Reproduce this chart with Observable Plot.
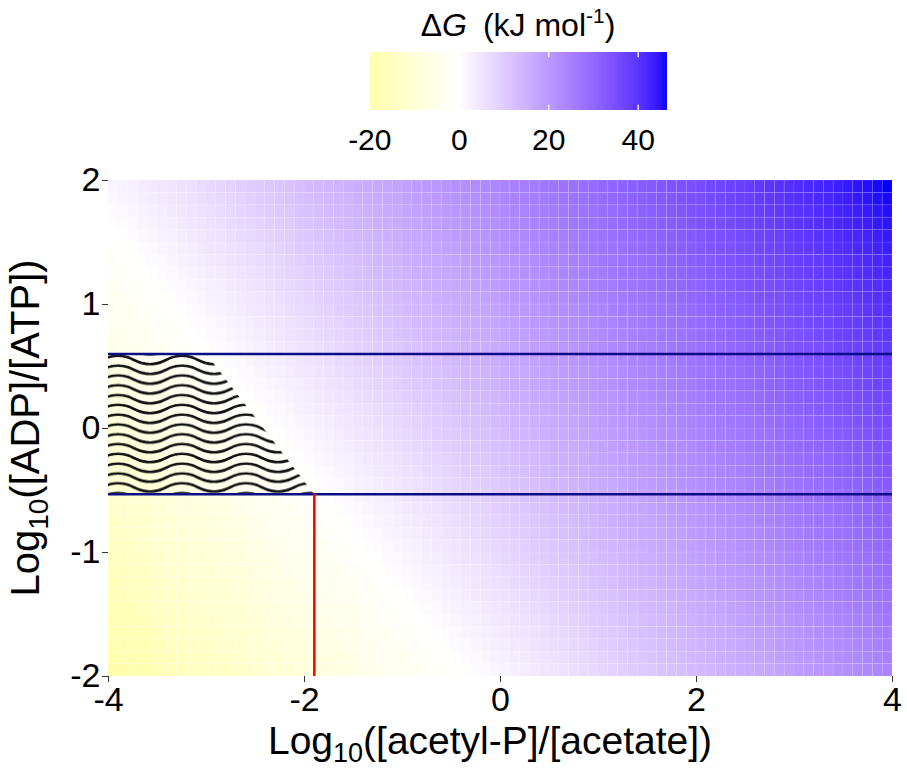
<!DOCTYPE html>
<html>
<head>
<meta charset="utf-8">
<script src="https://cdn.jsdelivr.net/npm/d3@7"></script>
<script src="https://cdn.jsdelivr.net/npm/@observablehq/plot@0.6"></script>
<style>
  html, body { margin: 0; padding: 0; background: #fff; overflow: hidden; }
  #chart svg { display: block; }
</style>
</head>
<body>
<div id="chart"></div>
<script>
// ---- data ----
const xDomain = [-4, 4];          // log10([acetyl-P]/[acetate])
const yDomain = [-2, 2];          // log10([ADP]/[ATP])
const tileStep = 0.1;             // grid resolution of the heat map
const xTicks = [-4, -2, 0, 2, 4];
const yTicks = [-2, -1, 0, 1, 2];
const legendTicks = [-20, 0, 20, 40];
// ΔG = ΔG0 + RT·ln10·(x + y)   (kJ/mol)
const dG0 = 13.2;
const RTln10 = 5.65;
// physiological band of log10([ADP]/[ATP]) and acetyl-P limit
const bandY = [-0.53, 0.60];
const acetylPLimit = -1.9;
// hatched (ΔG < 0) region edge inside the band
const hatchEdge = [
  {y: -0.53, x: -1.9},
  {y: 0.60, x: -3.0}
];

// ---- build the grid ----
const xEdges = d3.range(Math.round(xDomain[0] / tileStep), Math.round(xDomain[1] / tileStep)).map(i => i * tileStep);
const yEdges = d3.range(Math.round(yDomain[0] / tileStep), Math.round(yDomain[1] / tileStep)).map(i => i * tileStep);
const cells = [];
for (const x of xEdges) for (const y of yEdges) {
  const xc = x + tileStep / 2, yc = y + tileStep / 2;
  cells.push({x1: x, x2: x + tileStep, y1: y, y2: y + tileStep, dG: dG0 + RTln10 * (xc + yc)});
}
const [mn, mx] = d3.extent(cells, d => d.dG);
const M = Math.max(Math.abs(mn), Math.abs(mx));
const lowHigh = [d3.interpolateLab("#ffff00", "#ffffff"), d3.interpolateLab("#ffffff", "#0000ff")];
const colorOpts = {
  type: "linear",
  domain: [-M, M],
  interpolate: t => t < 0.5 ? lowHigh[0](t * 2) : lowHigh[1](t * 2 - 1)
};
const font = "'Liberation Sans', Arial, Helvetica, sans-serif";
const fmt = d => String(d);

// ---- legend (colour bar) ----
const pxPerUnit = (637.7 - 369.3) / 60;
const lMarginLeft = 369.3 + (mn + 20) * pxPerUnit;
const lMarginRight = 907 - (637.7 + (mx - 40) * pxPerUnit);
const nStops = 150;
const legendStep = (mx - mn) / nStops;
const legendStops = d3.range(nStops).map(i => mn + i * legendStep);

const legend = Plot.plot({
  width: 907, height: 160,
  marginTop: 52, marginBottom: 50, marginLeft: lMarginLeft, marginRight: lMarginRight,
  x: {domain: [mn, mx], axis: null},
  y: {domain: [0, 1], axis: null},
  color: colorOpts,
  style: {fontFamily: font, fontSize: "30px", color: "black", background: "white"},
  marks: [
    Plot.rect(legendStops, {x1: d => d, x2: d => Math.min(mx, d + legendStep * 1.6), fill: d => d + legendStep / 2, shapeRendering: "crispEdges"}),
    Plot.ruleX(legendTicks, {y1: 0, y2: 0.09, stroke: "white", strokeWidth: 1.3}),
    Plot.ruleX(legendTicks, {y1: 0.91, y2: 1, stroke: "white", strokeWidth: 1.3}),
    Plot.axisX(legendTicks, {tickSize: 0, tickPadding: 18, label: null, fill: "black", tickFormat: fmt})
  ]
});
const lsvg = d3.select(legend);
const lt = lsvg.append("text")
  .attr("x", 518).attr("y", 36)
  .attr("text-anchor", "middle")
  .attr("font-family", font).attr("font-size", 32).attr("fill", "black");
lt.append("tspan").text("Δ");
lt.append("tspan").attr("font-style", "italic").text("G");
lt.append("tspan").attr("xml:space", "preserve").text("\u2002(kJ mol");
lt.append("tspan").attr("font-size", 21).attr("dy", -13).text("-1");
lt.append("tspan").attr("dy", 13).text(")");

// ---- main heat map ----
const plot = Plot.plot({
  width: 907, height: 611,
  marginTop: 20, marginBottom: 95, marginLeft: 108, marginRight: 15,
  x: {domain: xDomain},
  y: {domain: yDomain},
  color: colorOpts,
  style: {fontFamily: font, fontSize: "34px", color: "black", background: "white"},
  marks: [
    Plot.rect(cells, {x1: "x1", x2: "x2", y1: "y1", y2: "y2", fill: "dG",
      stroke: "white", strokeOpacity: 0.13, strokeWidth: 0.7}),
    Plot.areaX(hatchEdge, {y: "y", x1: xDomain[0], x2: "x", fill: "url(#waves)"}),
    Plot.ruleY(bandY, {stroke: "#0c0c86", strokeWidth: 2.5}),
    Plot.ruleX([acetylPLimit], {y1: yDomain[0], y2: bandY[0], stroke: "#ff0000", strokeWidth: 2.5}),
    Plot.axisX({ticks: xTicks, tickSize: 6, tickPadding: 4, label: null, stroke: "#333", fill: "black", tickFormat: fmt}),
    Plot.axisY({ticks: yTicks, tickSize: 6, tickPadding: 2, label: null, stroke: "#333", fill: "black", tickFormat: fmt})
  ]
});

const svg = d3.select(plot);
const ys = plot.scale("y"), xs = plot.scale("x");
// wavy hatch pattern
const h = 9.8, A = 4.2, P = 64;
const defs = svg.insert("defs", ":first-child");
const pat = defs.append("pattern")
  .attr("id", "waves")
  .attr("patternUnits", "userSpaceOnUse")
  .attr("x", 134)
  .attr("y", ys.apply(bandY[1]) + 6.4 - h / 2)
  .attr("width", P).attr("height", h);
for (const off of [-h, 0, h]) {
  const c = h / 2 + off;
  let d = `M${-P},${c}`;
  for (let k = -1; k < 2; k++) {
    d += ` Q${k * P + P / 4},${c + 2 * A} ${k * P + P / 2},${c} Q${k * P + 3 * P / 4},${c - 2 * A} ${(k + 1) * P},${c}`;
  }
  pat.append("path").attr("d", d).attr("fill", "none").attr("stroke", "#111").attr("stroke-width", 2.6);
}

// axis titles with subscripts
const xt = svg.append("text")
  .attr("x", xs.apply(0) - 10).attr("y", 594)
  .attr("text-anchor", "middle")
  .attr("font-family", font).attr("font-size", 39).attr("fill", "black");
xt.append("tspan").text("Log");
xt.append("tspan").attr("font-size", 27).attr("dy", 8).text("10");
xt.append("tspan").attr("dy", -8).text("([acetyl-P]/[acetate])");

const yt = svg.append("text")
  .attr("transform", `translate(39,${ys.apply(0)}) rotate(-90)`)
  .attr("text-anchor", "middle")
  .attr("font-family", font).attr("font-size", 40).attr("fill", "black");
yt.append("tspan").text("Log");
yt.append("tspan").attr("font-size", 28).attr("dy", 9).text("10");
yt.append("tspan").attr("dy", -9).text("([ADP]/[ATP])");

const chart = document.getElementById("chart");
chart.appendChild(legend);
chart.appendChild(plot);
</script>
</body>
</html>
